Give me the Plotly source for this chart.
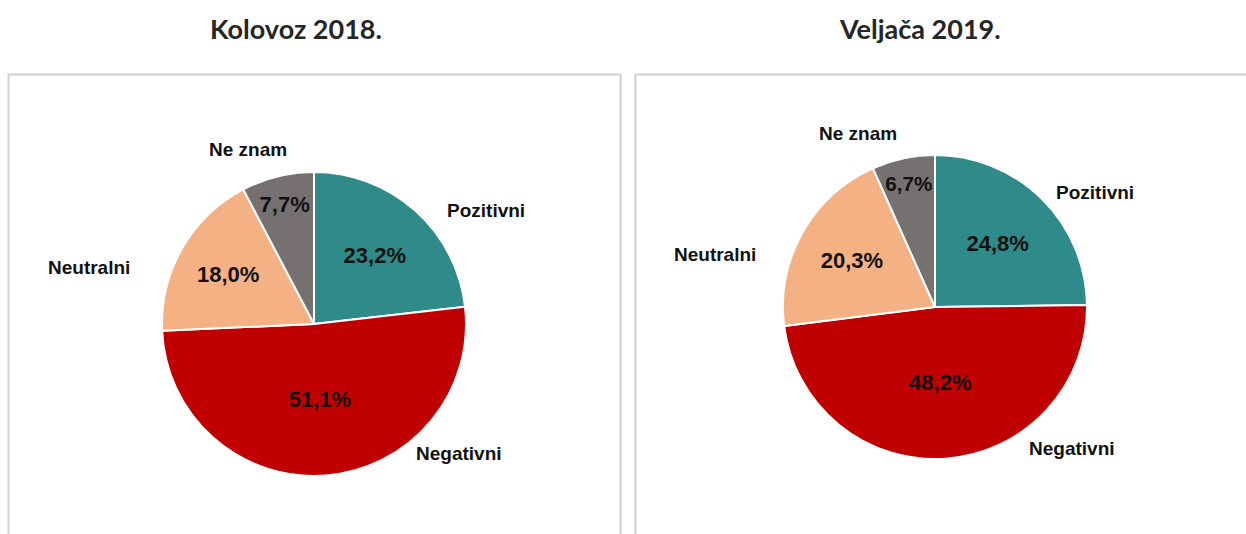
import plotly.graph_objects as go

W, H = 1246, 534

categories = ["Pozitivni", "Negativni", "Neutralni", "Ne znam"]
values_2018 = [23.2, 51.1, 18.0, 7.7]
values_2019 = [24.8, 48.2, 20.3, 6.7]
titles = ["Kolovoz 2018.", "Veljača 2019."]
colors = ["#2E8B8A", "#C00000", "#F4B183", "#767171"]

# layout helpers (window pixel -> paper)
def px(x):
    return x / W

def py(y):
    return 1 - y / H

pies = [
    dict(values=values_2018, cx=314, cy=324, r=152),
    dict(values=values_2019, cx=935, cy=307, r=152),
]

fig = go.Figure()
for p in pies:
    fig.add_trace(go.Pie(
        labels=categories,
        values=p["values"],
        sort=False,
        direction="clockwise",
        rotation=0,
        marker=dict(colors=colors, line=dict(color="white", width=2)),
        texttemplate="%{value:.1f}%",
        textposition="inside",
        insidetextorientation="horizontal",
        textfont=dict(family="Liberation Sans", size=22, color="#111111", weight="bold"),
        domain=dict(x=[px(p["cx"] - p["r"]), px(p["cx"] + p["r"])],
                    y=[py(p["cy"] + p["r"]), py(p["cy"] - p["r"])]),
        showlegend=False,
        hoverinfo="label+percent",
    ))

# boxes
fig.add_shape(type="rect", xref="paper", yref="paper",
              x0=px(8.5), x1=px(620.5), y0=py(560), y1=py(74.5),
              line=dict(color="#D0D0D0", width=2), fillcolor="rgba(0,0,0,0)")
fig.add_shape(type="rect", xref="paper", yref="paper",
              x0=px(635.5), x1=px(1270), y0=py(560), y1=py(74.5),
              line=dict(color="#D0D0D0", width=2), fillcolor="rgba(0,0,0,0)")

# titles
title_pos = [(296, 28), (920, 28)]
for t, (x, y) in zip(titles, title_pos):
    fig.add_annotation(text=t, x=px(x), y=py(y), xref="paper", yref="paper",
                       showarrow=False, xanchor="center", yanchor="middle",
                       font=dict(family="Lato", size=27, color="#262626", weight="bold"))

# category labels (outside)
label_pos = [
    [(486, 211), (459, 453), (89, 267), (248, 149)],
    [(1095, 192), (1072, 448), (715, 255), (858, 134)],
]
for lp in label_pos:
    for cat, (x, y) in zip(categories, lp):
        fig.add_annotation(text=cat, x=px(x), y=py(y), xref="paper", yref="paper",
                           showarrow=False, xanchor="center", yanchor="middle",
                           font=dict(family="Liberation Sans", size=19, color="#111111", weight="bold"))

fig.update_layout(
    width=W, height=H,
    margin=dict(l=0, r=0, t=0, b=0),
    paper_bgcolor="white",
    plot_bgcolor="white",
    separators=",.",
)

fig.write_html("out.html",
               config={"displayModeBar": False},
               post_script="document.body.style.margin='0';document.body.style.overflow='hidden';")
